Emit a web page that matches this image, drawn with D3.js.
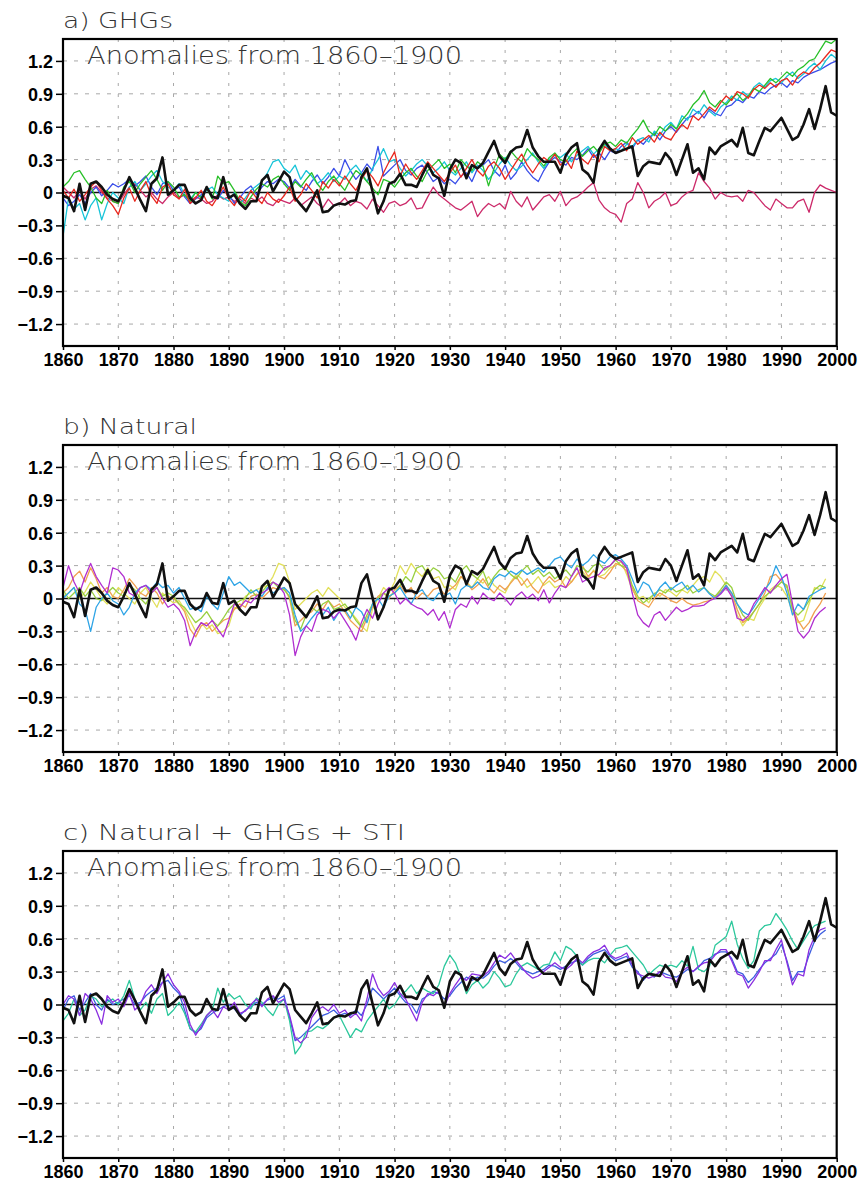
<!DOCTYPE html>
<html><head><meta charset="utf-8">
<script src="https://cdn.jsdelivr.net/npm/d3@7/dist/d3.min.js"></script>
<style>body{margin:0;background:#fff}</style>
</head><body>
<svg id="chart" width="862" height="1189"></svg>
<script>
const startYear = 1860;
const xTickYears = [1860,1870,1880,1890,1900,1910,1920,1930,1940,1950,1960,1970,1980,1990,2000];
const yTickValues = [-1.2,-0.9,-0.6,-0.3,0,0.3,0.6,0.9,1.2];
const yTickLabels = ["\u22121.2","\u22120.9","\u22120.6","\u22120.3","0","0.3","0.6","0.9","1.2"];
const panelTitles = ["a)  GHGs","b)  Natural","c)  Natural  +  GHGs  +  STI"];
const subtitle = "Anomalies  from  1860\u20131900";

// Observed (black), 1860-2000
const observed = [
-0.03,-0.05,-0.17,0.08,-0.16,0.08,0.10,0.05,-0.02,-0.06,
-0.08,0.02,0.14,0.04,-0.07,-0.17,0.08,0.13,0.32,-0.02,
0.02,0.07,0.07,-0.05,-0.10,-0.07,0.05,-0.04,-0.05,0.14,
-0.05,-0.02,-0.10,-0.15,-0.08,-0.08,0.11,0.16,0.01,0.10,
0.19,0.14,-0.05,-0.11,-0.17,-0.08,0.02,-0.18,-0.17,-0.12,
-0.10,-0.11,-0.08,-0.07,0.14,0.22,0.01,-0.19,-0.08,0.08,
0.10,0.17,0.07,0.07,0.05,0.16,0.26,0.16,0.13,-0.03,
0.21,0.30,0.27,0.13,0.25,0.22,0.27,0.37,0.47,0.33,
0.27,0.37,0.41,0.42,0.57,0.41,0.33,0.28,0.28,0.28,
0.18,0.34,0.41,0.45,0.21,0.17,0.09,0.39,0.47,0.40,
0.36,0.38,0.40,0.42,0.15,0.24,0.28,0.27,0.26,0.36,
0.30,0.16,0.30,0.44,0.18,0.22,0.12,0.41,0.35,0.42,
0.45,0.48,0.42,0.59,0.36,0.34,0.47,0.59,0.56,0.62,
0.68,0.58,0.48,0.51,0.62,0.76,0.58,0.76,0.97,0.73,
0.70];

// Panel a: GHG runs, 1860-2000
const ghgRed = [
0.02,-0.05,0.03,-0.08,-0.02,0.05,0.10,0.02,-0.06,-0.12,
-0.20,-0.05,0.04,-0.08,0.02,0.10,-0.03,-0.10,0.05,0.08,
-0.02,-0.06,0.03,-0.10,-0.05,0.02,-0.08,-0.12,-0.04,0.05,
-0.06,-0.12,-0.03,-0.08,0.02,-0.05,-0.10,0.00,-0.06,-0.09,
-0.03,0.05,-0.08,-0.02,0.08,0.02,-0.05,0.10,0.04,0.12,
0.06,0.15,0.08,0.02,0.12,0.20,0.14,0.06,0.18,0.28,
0.37,0.15,0.26,0.18,0.12,0.20,0.28,0.22,0.16,0.10,
0.18,0.25,0.14,0.22,0.30,0.20,0.15,0.24,0.28,0.22,
0.12,0.20,0.28,0.35,0.25,0.18,0.26,0.32,0.28,0.35,
0.25,0.30,0.22,0.38,0.30,0.26,0.35,0.28,0.42,0.38,
0.40,0.45,0.38,0.50,0.44,0.48,0.52,0.46,0.55,0.50,
0.48,0.56,0.62,0.58,0.70,0.66,0.72,0.78,0.74,0.82,
0.88,0.84,0.92,0.90,0.86,0.94,0.98,0.95,1.00,0.96,
1.02,1.04,0.98,1.06,1.10,1.08,1.14,1.18,1.24,1.30,
1.28];
const ghgGreen = [
0.05,0.10,0.18,0.20,0.12,0.05,-0.05,-0.10,0.02,-0.08,
-0.10,0.05,0.10,0.00,0.08,0.14,0.20,0.12,0.02,0.10,
0.05,-0.04,-0.02,-0.08,0.00,-0.05,0.04,-0.06,0.15,0.08,
0.10,0.02,-0.08,-0.12,-0.04,0.03,0.08,0.05,0.12,0.15,
0.08,0.02,0.10,0.05,0.12,0.18,0.08,0.02,0.10,0.15,
0.08,0.02,0.12,0.20,0.16,0.10,0.04,-0.02,0.12,0.10,
0.05,0.12,0.18,0.22,0.15,0.10,0.20,0.25,0.30,0.22,
0.26,0.18,0.30,0.24,0.20,0.28,0.24,0.06,0.22,0.35,
0.30,0.38,0.32,0.28,0.40,0.34,0.30,0.24,0.32,0.36,
0.30,0.28,0.35,0.40,0.33,0.38,0.42,0.36,0.44,0.46,
0.42,0.48,0.45,0.52,0.58,0.66,0.56,0.52,0.60,0.56,
0.62,0.58,0.66,0.72,0.80,0.85,0.93,0.82,0.78,0.84,
0.80,0.86,0.90,0.84,0.88,0.95,0.92,0.98,1.04,1.00,
1.05,1.10,1.06,1.12,1.15,1.20,1.22,1.30,1.38,1.36,
1.40];
const ghgBlue = [
-0.05,-0.12,-0.08,-0.02,-0.10,0.00,0.05,-0.03,0.02,0.08,
0.05,0.08,0.12,0.06,0.10,0.15,0.05,-0.02,0.08,0.10,
0.02,0.05,-0.04,-0.10,-0.06,-0.02,0.04,-0.03,-0.06,0.02,
-0.02,-0.10,-0.05,0.02,0.06,-0.02,0.05,0.10,0.08,0.12,
0.10,0.04,0.12,0.06,0.02,0.10,0.16,0.08,0.14,0.22,
0.15,0.30,0.20,0.12,0.18,0.26,0.20,0.42,0.15,0.20,
0.25,0.30,0.20,0.16,0.22,0.25,0.18,0.10,0.14,0.08,
0.12,0.08,0.15,0.18,0.10,0.22,0.25,0.30,0.20,0.15,
0.25,0.12,0.18,0.28,0.20,0.14,0.10,0.20,0.28,0.32,
0.28,0.25,0.32,0.30,0.34,0.40,0.32,0.36,0.30,0.38,
0.36,0.42,0.46,0.40,0.48,0.44,0.50,0.54,0.48,0.56,
0.60,0.55,0.62,0.68,0.70,0.74,0.68,0.76,0.72,0.70,
0.78,0.80,0.85,0.82,0.88,0.86,0.92,0.90,0.95,0.98,
1.00,0.96,1.02,1.00,1.05,1.08,1.10,1.12,1.15,1.18,
1.20];
const ghgCyan = [
-0.40,-0.05,-0.15,-0.10,-0.25,-0.12,-0.05,-0.25,-0.10,0.00,
-0.05,-0.10,0.05,0.10,0.02,0.08,0.15,0.20,0.10,0.05,
0.02,0.08,-0.02,-0.06,0.00,-0.04,0.02,0.05,-0.02,-0.05,
-0.08,0.00,-0.10,-0.05,0.02,0.06,0.10,0.18,0.28,0.30,
0.22,0.18,0.25,0.12,0.20,0.15,0.08,0.12,0.18,0.10,
0.15,0.12,0.20,0.25,0.18,0.10,0.22,0.30,0.40,0.28,
0.30,0.22,0.15,0.20,0.26,0.30,0.24,0.18,0.22,0.28,
0.20,0.16,0.22,0.28,0.18,0.25,0.20,0.12,0.18,0.26,
0.32,0.25,0.20,0.24,0.30,0.36,0.28,0.22,0.30,0.34,
0.32,0.36,0.28,0.34,0.38,0.42,0.35,0.40,0.44,0.38,
0.40,0.38,0.44,0.42,0.48,0.50,0.46,0.56,0.52,0.60,
0.64,0.58,0.70,0.66,0.76,0.72,0.80,0.74,0.70,0.78,
0.82,0.88,0.84,0.92,0.88,0.96,1.00,0.96,1.02,1.04,
1.00,1.06,1.10,1.04,1.08,1.14,1.18,1.12,1.20,1.26,
1.22];
const ghgCrimson = [
0.05,0.00,-0.05,0.02,-0.06,0.03,0.06,0.00,-0.05,-0.08,
-0.10,-0.02,0.05,0.08,0.02,-0.04,0.00,-0.06,-0.10,-0.04,
0.00,-0.05,-0.02,-0.08,-0.04,-0.06,-0.10,-0.08,-0.02,-0.06,
-0.04,-0.08,-0.06,-0.10,-0.05,-0.08,-0.04,-0.10,-0.12,-0.06,
-0.08,-0.10,-0.05,-0.12,-0.08,-0.04,-0.10,-0.14,-0.06,-0.12,
-0.10,-0.05,-0.12,-0.08,-0.10,-0.15,-0.06,-0.12,-0.18,-0.10,
-0.08,-0.12,-0.10,-0.05,-0.15,-0.14,-0.04,0.05,-0.02,-0.06,
-0.10,-0.14,-0.16,-0.12,-0.08,-0.22,-0.15,-0.10,-0.13,-0.10,
-0.15,0.01,-0.08,-0.13,-0.04,-0.16,-0.10,-0.04,-0.02,-0.08,
0.01,-0.12,-0.06,-0.04,0.00,0.05,0.09,-0.07,-0.14,-0.18,
-0.20,-0.27,-0.10,-0.06,0.09,0.00,-0.14,-0.08,-0.05,0.00,
-0.12,-0.10,-0.04,0.00,0.02,0.18,0.10,0.04,-0.06,0.00,
-0.03,-0.04,-0.03,-0.08,0.02,0.00,-0.06,-0.12,-0.16,-0.06,
-0.10,-0.14,-0.14,-0.08,-0.06,-0.18,0.00,0.07,0.04,0.02,
0.00];

// Panel b: Natural runs, 1860-1998
const natPurple = [
0.10,0.30,0.15,0.05,0.20,0.32,0.20,0.12,0.05,0.28,
0.26,0.20,0.05,0.02,0.10,0.12,0.05,0.10,0.00,-0.08,
-0.05,-0.10,-0.20,-0.43,-0.30,-0.22,-0.25,-0.20,-0.28,-0.35,
-0.20,-0.05,-0.08,-0.02,-0.04,0.02,0.05,0.08,0.15,0.12,
0.05,-0.15,-0.52,-0.35,-0.25,-0.30,-0.15,-0.10,-0.12,-0.18,
-0.12,-0.20,-0.28,-0.38,-0.22,-0.10,-0.18,-0.05,0.05,0.10,
0.05,-0.05,0.00,-0.05,-0.08,-0.10,-0.15,-0.10,-0.20,-0.12,
-0.27,-0.10,-0.05,-0.08,0.02,-0.05,0.05,0.00,-0.02,0.05,
0.00,-0.06,0.02,0.06,0.00,0.04,-0.02,0.08,-0.04,0.05,
0.12,0.10,0.20,0.28,0.15,0.18,0.20,0.22,0.28,0.30,
0.36,0.34,0.28,0.05,-0.15,-0.22,-0.26,-0.15,-0.12,-0.20,
-0.14,-0.08,-0.12,-0.10,-0.07,-0.07,-0.06,-0.02,0.00,0.04,
0.10,0.02,-0.18,-0.20,-0.16,-0.05,0.02,0.10,0.05,0.12,
0.18,0.22,-0.05,-0.30,-0.36,-0.30,-0.18,-0.12,-0.08];
const natOrange = [
0.05,0.10,0.20,0.25,0.15,0.28,0.18,0.05,0.10,0.02,
0.00,0.08,0.18,0.12,0.05,0.02,0.10,0.05,-0.05,0.02,
0.00,-0.05,-0.12,-0.28,-0.35,-0.25,-0.22,-0.30,-0.25,-0.20,
-0.18,-0.10,-0.05,-0.08,0.02,0.04,0.00,0.05,0.10,0.08,
0.10,0.00,-0.25,-0.20,-0.15,-0.12,-0.05,-0.10,-0.02,-0.08,
-0.05,-0.12,-0.20,-0.25,-0.30,-0.18,-0.08,0.02,0.05,0.00,
0.08,0.12,0.05,0.10,0.00,0.05,0.02,0.08,0.10,0.04,
0.08,0.12,0.20,0.15,0.08,0.12,0.18,0.10,0.05,0.12,
0.08,0.14,0.20,0.12,0.18,0.10,0.05,0.14,0.20,0.15,
0.18,0.10,0.15,0.22,0.30,0.20,0.25,0.20,0.18,0.24,
0.32,0.30,0.25,0.10,-0.02,-0.05,-0.08,0.00,0.05,0.02,
-0.02,-0.04,0.00,-0.04,-0.06,-0.05,-0.03,-0.02,0.02,0.06,
0.12,0.05,-0.10,-0.22,-0.18,-0.12,-0.05,0.05,0.20,0.22,
0.16,0.10,-0.08,-0.20,-0.28,-0.22,-0.12,-0.05,0.05];
const natYellow = [
0.02,0.05,0.10,0.00,0.06,0.15,0.08,0.00,-0.05,0.02,
0.10,0.05,0.00,-0.05,0.05,0.10,0.00,-0.08,0.05,0.00,
-0.04,-0.02,-0.10,-0.20,-0.30,-0.22,-0.28,-0.24,-0.32,-0.30,
-0.25,-0.08,-0.10,0.02,0.05,0.08,0.10,0.12,0.20,0.32,
0.30,0.15,-0.10,-0.05,0.00,0.05,0.08,0.02,0.10,0.05,
0.00,-0.08,-0.12,-0.18,-0.25,-0.30,-0.10,0.00,0.10,0.05,
0.15,0.30,0.22,0.32,0.25,0.20,0.28,0.18,0.20,0.10,
0.12,0.08,0.20,0.15,0.10,0.18,0.14,0.20,0.12,0.08,
0.05,0.15,0.22,0.18,0.10,0.14,0.20,0.12,0.16,0.10,
0.12,0.20,0.15,0.22,0.25,0.18,0.26,0.20,0.22,0.28,
0.30,0.34,0.22,0.08,0.00,0.02,-0.04,0.05,0.02,0.08,
0.06,0.02,0.08,0.05,0.12,0.18,0.20,0.15,0.25,0.20,
0.12,0.02,-0.15,-0.25,-0.18,-0.20,-0.08,0.00,0.08,0.12,
0.10,0.02,-0.12,-0.22,-0.20,-0.05,0.10,0.08,0.18];
const natGreen = [
0.08,0.00,0.05,0.10,0.02,0.08,0.00,-0.02,0.05,0.10,
0.05,0.02,0.12,0.08,0.00,-0.05,0.05,0.10,0.02,0.05,
0.02,-0.05,-0.08,-0.15,-0.22,-0.18,-0.12,-0.20,-0.25,-0.18,
-0.10,-0.05,-0.02,0.00,0.08,0.02,0.06,0.12,0.15,0.10,
0.08,0.02,-0.20,-0.28,-0.15,-0.08,-0.12,-0.05,-0.02,-0.10,
-0.08,-0.05,-0.12,-0.20,-0.26,-0.15,-0.05,0.00,0.05,0.02,
0.05,0.12,0.20,0.15,0.28,0.30,0.22,0.28,0.25,0.18,
0.20,0.15,0.25,0.30,0.22,0.18,0.25,0.12,0.20,0.26,
0.28,0.22,0.18,0.25,0.30,0.22,0.26,0.20,0.24,0.18,
0.22,0.26,0.20,0.30,0.28,0.24,0.30,0.32,0.26,0.30,
0.35,0.30,0.28,0.12,0.02,-0.04,0.00,0.04,0.08,0.05,
0.10,0.06,0.08,0.12,0.05,0.08,0.10,0.05,0.02,0.08,
0.15,0.10,-0.05,-0.15,-0.20,-0.12,-0.05,0.02,0.06,0.10,
0.15,0.12,-0.10,-0.15,-0.10,-0.02,0.08,0.12,0.10];
const natBlue = [
0.00,0.05,0.10,-0.05,-0.10,-0.30,-0.08,0.00,0.05,-0.02,
-0.05,-0.15,-0.08,0.05,0.10,0.12,0.08,0.15,0.10,0.12,
0.05,0.10,0.00,-0.10,-0.08,-0.12,0.02,-0.05,-0.10,0.05,
0.20,0.12,0.15,0.10,0.05,0.08,0.02,0.10,0.05,0.08,
0.10,0.05,-0.15,-0.30,-0.25,-0.18,-0.12,-0.15,-0.08,-0.20,
-0.12,-0.10,-0.18,-0.08,-0.12,-0.22,-0.05,0.00,-0.08,0.02,
0.05,0.10,0.02,-0.05,0.05,0.08,0.00,-0.02,0.05,0.02,
0.05,-0.05,0.08,0.12,0.10,0.15,0.10,0.08,0.18,0.22,
0.20,0.25,0.22,0.26,0.22,0.25,0.28,0.24,0.30,0.36,
0.38,0.32,0.28,0.36,0.30,0.34,0.40,0.35,0.32,0.38,
0.40,0.36,0.30,0.18,0.05,0.15,0.12,0.02,0.10,0.15,
0.08,0.12,0.15,0.08,0.12,0.06,0.10,0.04,0.00,0.05,
0.12,0.05,-0.05,-0.12,-0.15,-0.08,0.00,0.08,0.15,0.30,
0.20,0.05,-0.15,-0.05,-0.10,0.02,0.05,0.08,0.10];

// Panel c: Natural + GHGs + STI runs, 1860-1998
const allTeal = [
-0.15,-0.08,0.05,-0.10,-0.05,0.08,0.05,-0.02,0.02,0.05,
0.00,0.08,0.22,0.05,-0.05,0.02,-0.08,0.05,0.10,-0.10,
-0.05,0.02,-0.08,-0.22,-0.25,-0.18,-0.10,-0.05,0.15,0.02,
0.10,0.05,0.08,0.00,-0.04,0.06,0.02,-0.05,-0.10,0.00,
0.05,-0.15,-0.45,-0.38,-0.25,-0.24,-0.20,-0.22,-0.18,-0.12,
-0.10,-0.20,-0.30,-0.22,-0.25,-0.15,-0.08,-0.02,0.05,-0.04,
0.00,0.08,0.12,0.18,0.10,0.15,0.12,0.10,0.18,0.35,
0.45,0.38,0.25,0.10,0.18,0.22,0.15,0.20,0.30,0.24,
0.16,0.18,0.28,0.35,0.38,0.35,0.32,0.36,0.37,0.48,
0.40,0.53,0.50,0.44,0.36,0.40,0.42,0.42,0.38,0.45,
0.51,0.52,0.54,0.48,0.42,0.36,0.27,0.32,0.36,0.34,
0.36,0.34,0.40,0.35,0.53,0.32,0.30,0.35,0.54,0.58,
0.62,0.76,0.55,0.42,0.33,0.40,0.67,0.72,0.73,0.83,
0.76,0.68,0.58,0.50,0.58,0.66,0.72,0.74,0.76];
const allPurple = [
0.00,0.08,0.05,-0.10,0.10,0.05,-0.05,-0.18,0.08,0.02,
0.05,-0.02,0.10,-0.05,0.00,0.12,0.18,0.10,0.20,0.28,
0.18,0.12,0.02,-0.18,-0.28,-0.20,-0.10,-0.05,-0.12,-0.02,
-0.05,0.02,-0.08,-0.06,0.00,0.05,-0.02,0.05,0.08,0.02,
0.05,-0.10,-0.30,-0.35,-0.30,-0.12,-0.05,-0.02,-0.06,0.00,
-0.08,-0.05,-0.12,-0.08,-0.15,0.05,0.28,0.15,0.08,0.12,
0.20,0.10,0.05,-0.05,-0.15,0.02,0.10,0.08,0.12,-0.02,
0.10,0.18,0.25,0.22,0.28,0.27,0.26,0.30,0.38,0.45,
0.42,0.47,0.40,0.34,0.28,0.24,0.26,0.30,0.34,0.38,
0.34,0.32,0.36,0.42,0.38,0.44,0.48,0.50,0.54,0.45,
0.42,0.44,0.47,0.36,0.28,0.26,0.24,0.26,0.30,0.25,
0.24,0.21,0.30,0.34,0.30,0.35,0.38,0.39,0.45,0.50,
0.50,0.40,0.28,0.26,0.15,0.22,0.30,0.40,0.40,0.50,
0.59,0.38,0.18,0.28,0.26,0.50,0.62,0.68,0.70];
const allBlue = [
-0.05,0.05,0.08,-0.05,0.02,0.10,0.00,-0.05,0.05,0.00,
0.02,0.05,0.08,0.00,0.02,0.08,0.12,0.15,0.20,0.22,
0.15,0.10,-0.05,-0.22,-0.26,-0.22,-0.12,-0.08,-0.05,-0.02,
0.00,-0.04,-0.10,-0.05,-0.02,0.02,0.00,0.04,0.06,0.05,
0.08,-0.12,-0.33,-0.30,-0.25,-0.20,-0.15,-0.10,-0.08,-0.05,
-0.10,-0.08,-0.10,-0.05,-0.10,0.00,0.15,0.10,0.05,0.10,
0.15,0.08,0.02,0.00,-0.08,0.05,0.08,0.12,0.10,0.05,
0.08,0.15,0.20,0.25,0.22,0.25,0.24,0.28,0.35,0.40,
0.38,0.42,0.38,0.32,0.30,0.28,0.30,0.32,0.36,0.35,
0.32,0.35,0.38,0.40,0.36,0.42,0.46,0.48,0.50,0.44,
0.40,0.42,0.44,0.34,0.30,0.22,0.28,0.25,0.30,0.28,
0.26,0.25,0.28,0.32,0.30,0.34,0.40,0.42,0.46,0.48,
0.48,0.42,0.30,0.28,0.20,0.25,0.32,0.38,0.42,0.46,
0.55,0.40,0.22,0.30,0.30,0.45,0.58,0.64,0.68];

// ---------- drawing ----------
const svg = d3.select("#chart");
const L = 63, R = 836.7, H = 307;
const panels = [
  {top: 39,  title: panelTitles[0], titleW: 110, runs: [
    {v: ghgCrimson, c: "#cc2a6a"}, {v: ghgBlue, c: "#3a4ee8"}, {v: ghgCyan, c: "#18c4d8"},
    {v: ghgGreen, c: "#28c028"}, {v: ghgRed, c: "#e8281e"}]},
  {top: 445, title: panelTitles[1], titleW: 134, runs: [
    {v: natYellow, c: "#e2e05a"}, {v: natOrange, c: "#f0a050"}, {v: natGreen, c: "#98d040"},
    {v: natBlue, c: "#2ea4e6"}, {v: natPurple, c: "#b02ed0"}]},
  {top: 851, title: panelTitles[2], titleW: 342, runs: [
    {v: allBlue, c: "#3d5ee0"}, {v: allTeal, c: "#2cc89c"}, {v: allPurple, c: "#8a2ee0"}]}
];

const x = d3.scaleLinear().domain([1860, 2000]).range([L, R]);

panels.forEach((p, pi) => {
  const y = d3.scaleLinear().domain([-1.4, 1.4]).range([p.top + H, p.top]);
  const g = svg.append("g");
  const clipId = "clip" + pi;
  g.append("clipPath").attr("id", clipId).append("rect")
    .attr("x", L).attr("y", p.top).attr("width", R - L).attr("height", H);

  // grid
  g.append("g").selectAll("line").data(yTickValues.filter(d => d !== 0)).join("line")
    .attr("x1", L).attr("x2", R).attr("y1", d => y(d)).attr("y2", d => y(d))
    .attr("stroke", "#a8a8a8").attr("stroke-width", 1).attr("stroke-dasharray", "4,7");
  g.append("g").selectAll("line").data(xTickYears.slice(1, -1)).join("line")
    .attr("x1", d => x(d)).attr("x2", d => x(d)).attr("y1", p.top).attr("y2", p.top + H)
    .attr("stroke", "#a8a8a8").attr("stroke-width", 1).attr("stroke-dasharray", "3,8");

  // zero line
  g.append("line").attr("x1", L).attr("x2", R).attr("y1", y(0)).attr("y2", y(0))
    .attr("stroke", "#111").attr("stroke-width", 1.3);

  const line = d3.line().x((d, i) => x(startYear + i)).y(d => y(d));
  const lg = g.append("g").attr("clip-path", `url(#${clipId})`);
  p.runs.forEach(r => {
    lg.append("path").attr("d", line(r.v)).attr("fill", "none")
      .attr("stroke", r.c).attr("stroke-width", 1.3).attr("stroke-linejoin", "round");
  });
  lg.append("path").attr("d", line(observed)).attr("fill", "none")
    .attr("stroke", "#111").attr("stroke-width", 2.6).attr("stroke-linejoin", "round");

  // frame
  g.append("rect").attr("x", L).attr("y", p.top).attr("width", R - L).attr("height", H)
    .attr("fill", "none").attr("stroke", "#000").attr("stroke-width", 2.2);

  // axes
  const ya = g.append("g").attr("transform", `translate(${L},0)`)
    .call(d3.axisLeft(y).tickValues(yTickValues).tickFormat((d, i) => yTickLabels[i]).tickSize(7).tickPadding(3));
  const xa = g.append("g").attr("transform", `translate(0,${p.top + H})`)
    .call(d3.axisBottom(x).tickValues(xTickYears).tickFormat(d3.format("d")).tickSize(4).tickPadding(3));
  [ya, xa].forEach(a => {
    a.select(".domain").remove();
    a.selectAll(".tick line").attr("stroke", "#000").attr("stroke-width", 1.5);
    a.selectAll("text").attr("fill", "#000")
      .style("font-family", "'Liberation Sans', Arial, sans-serif")
      .style("font-weight", "bold").style("font-size", "18px");
  });
  ya.selectAll("text").attr("dy", "0.36em");

  // titles
  g.append("text").attr("x", L).attr("y", p.top - 11).text(p.title)
    .attr("textLength", p.titleW).attr("lengthAdjust", "spacingAndGlyphs")
    .attr("fill", "#333").style("font-family", "'DejaVu Sans', sans-serif")
    .style("font-weight", 200).style("font-size", "22px");
  g.append("text").attr("x", 87).attr("y", p.top + 25).text(subtitle)
    .attr("textLength", 375).attr("lengthAdjust", "spacingAndGlyphs")
    .attr("fill", "#333").style("font-family", "'DejaVu Sans', sans-serif")
    .style("font-weight", 200).style("font-size", "24px");
});
</script>
</body></html>
